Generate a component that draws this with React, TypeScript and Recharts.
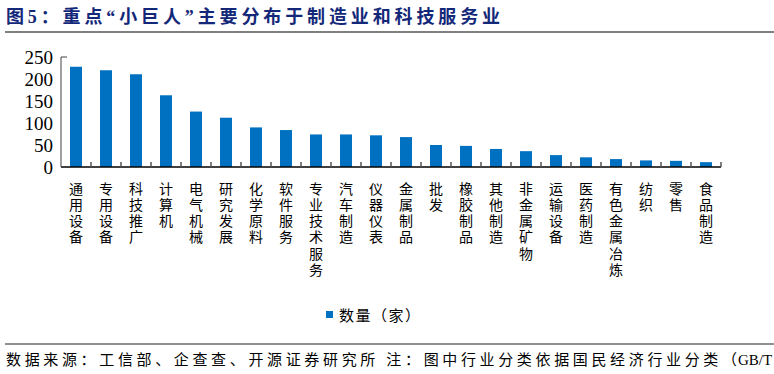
import React from 'react'
import { BarChart, Bar, XAxis, YAxis, Legend } from 'recharts'

const categories = [
  '通用设备', '专用设备', '科技推广', '计算机', '电气机械', '研究发展', '化学原料', '软件服务',
  '专业技术服务', '汽车制造', '仪器仪表', '金属制品', '批发', '橡胶制品', '其他制造', '非金属矿物',
  '运输设备', '医药制造', '有色金属冶炼', '纺织', '零售', '食品制造',
]
const counts = [228, 220, 211, 163, 126, 112, 90, 84, 74, 74, 72, 68, 50, 48, 41, 36, 27, 22, 18, 15, 14, 11]
const yTicks = [0, 50, 100, 150, 200, 250]
const seriesName = '数量（家）'
const title = '图5：重点“小巨人”主要分布于制造业和科技服务业'
const sourceMain = '数据来源：工信部、企查查、开源证券研究所 注：图中行业分类依据国民经济行业分类（'
const sourceTail = 'GB/T'

const data = categories.map((name, i) => ({ name, value: counts[i] }))

const FONT = "'Liberation Serif', 'Noto Sans CJK SC', serif"
const BLUE = '#0070C0'

const XTick = ({ x, y, payload }: any) => {
  const chars = String(payload.value).split('')
  return (
    <g>
      <line x1={x + 15} x2={x + 15} y1={y - 5} y2={y} stroke="#555" strokeWidth={1.5} />
      {chars.map((c, i) => (
        <text key={i} x={x} y={y + 22 + i * 16.3} textAnchor="middle" dominantBaseline="central"
          fontSize={14} fontFamily={FONT} fill="#000">{c}</text>
      ))}
    </g>
  )
}

const YTick = ({ x, y, payload }: any) => (
  <g>
    {payload.value === 250 && <line x1={x + 8} x2={x + 14} y1={y} y2={y} stroke="#404040" strokeWidth={1} />}
    <text x={x} y={y} textAnchor="end" dominantBaseline="central" fontSize={19} fontFamily={FONT} fill="#000">
      {payload.value}
    </text>
  </g>
)

const LegendContent = () => (
  <div style={{ display: 'flex', alignItems: 'center', fontFamily: FONT, fontSize: 15, color: '#000', whiteSpace: 'nowrap' }}>
    <span style={{ width: 7, height: 7, background: BLUE, display: 'inline-block', marginRight: 6 }} />
    <span style={{ letterSpacing: 1.5 }}>{seriesName}</span>
  </div>
)

export default function App() {
  return (
    <div style={{ position: 'absolute', left: 0, top: 0, width: 774, height: 374, background: '#fff' }}>
      <svg width={774} height={374} style={{ position: 'absolute', left: 0, top: 0 }}>
        <text x={6} y={17} dominantBaseline="central" fontSize={18} fontWeight="bold" fontFamily={FONT}
          fill="#14287a" textLength={494} lengthAdjust="spacing">{title}</text>
        <line x1={5} x2={774} y1={32} y2={32} stroke="#808080" strokeWidth={2} />
        <line x1={5} x2={774} y1={344} y2={344} stroke="#222" strokeWidth={1} />
        <text x={6} y={360} dominantBaseline="central" fontSize={15} fontFamily={FONT}
          fill="#000" textLength={731} lengthAdjust="spacing">{sourceMain}</text>
        <text x={738} y={360} dominantBaseline="central" fontSize={15} fontFamily={FONT}
          fill="#000">{sourceTail}</text>
      </svg>
      <div style={{ position: 'absolute', left: 0, top: 0 }}>
        <BarChart width={774} height={374} data={data} margin={{ top: 57, right: 53, left: 0, bottom: 77 }}>
          <XAxis dataKey="name" interval={0} height={130} tickLine={false} tickSize={0} tickMargin={0}
            axisLine={{ stroke: '#000', strokeWidth: 1.5 }} tick={<XTick />} />
          <YAxis domain={[0, 250]} ticks={yTicks} width={61} tickLine={false} tickSize={0} tickMargin={8}
            axisLine={{ stroke: '#404040', strokeWidth: 1 }} tick={<YTick />} interval={0} />
          <Legend layout="horizontal" verticalAlign="middle" align="center" content={<LegendContent />}
            wrapperStyle={{ left: 326, top: 304, width: 120 }} />
          <Bar dataKey="value" name={seriesName} fill={BLUE} barSize={12} isAnimationActive={false} />
        </BarChart>
      </div>
    </div>
  )
}
